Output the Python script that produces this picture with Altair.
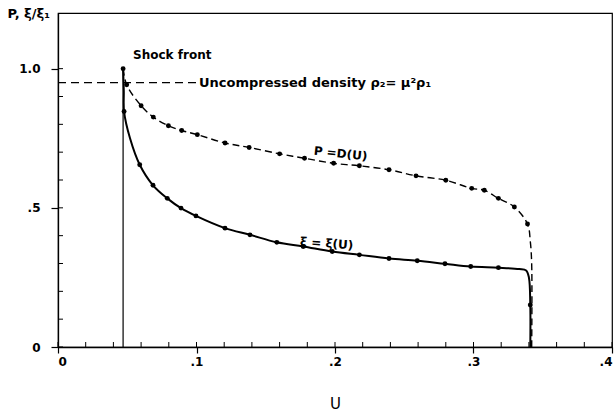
import altair as alt
import pandas as pd

# ---- data ----
p_u = [0.047, 0.0496, 0.060, 0.0688, 0.0797, 0.0893, 0.1006, 0.1206, 0.138, 0.160, 0.178,
       0.199, 0.2176, 0.239, 0.2585, 0.280, 0.2987, 0.3078, 0.318, 0.3295, 0.339, 0.341, 0.342, 0.342]
p_v = [1.0, 0.942, 0.867, 0.826, 0.795, 0.778, 0.763, 0.733, 0.717, 0.694, 0.678,
       0.660, 0.651, 0.637, 0.615, 0.599, 0.570, 0.563, 0.534, 0.503, 0.442, 0.38, 0.30, 0.0]
p_mark = [1, 1, 1, 1, 1, 1, 1, 1, 1, 1, 1,
          1, 1, 1, 1, 1, 1, 1, 1, 1, 1, 0, 0, 0]

xi_u = [0.047, 0.0475, 0.0477, 0.052, 0.059, 0.0686, 0.0789, 0.0888, 0.0996, 0.1206, 0.1386,
        0.158, 0.177, 0.198, 0.2176, 0.239, 0.2594, 0.2794, 0.298, 0.318, 0.333, 0.338, 0.340, 0.341, 0.341]
xi_v = [1.0, 0.92, 0.846, 0.75, 0.655, 0.581, 0.534, 0.499, 0.471, 0.427, 0.403,
        0.376, 0.361, 0.343, 0.331, 0.318, 0.310, 0.299, 0.289, 0.285, 0.280, 0.275, 0.25, 0.151, 0.0]
xi_mark = [0, 0, 1, 0, 1, 1, 1, 1, 1, 1, 1,
           1, 1, 1, 1, 1, 1, 1, 1, 1, 0, 0, 0, 1, 0]

shock_u = 0.047
shock_top = 1.0
uncompressed_v = 0.95
uncompressed_end = 0.101

x_ticks = [0, 0.1, 0.2, 0.3, 0.4]
y_ticks = [0, 0.5, 1.0]
x_minor = [round(i * 0.02, 2) for i in range(21)]
y_minor = [round(i * 0.1, 1) for i in range(11)]

label_shock = "Shock front"
label_unc = "Uncompressed  density  ρ₂= μ²ρ₁"
label_p = "P =D(U)"
label_xi = "ξ = ξ(U)"
x_title = "U"
y_title = "P, ξ/ξ₁"

# ---- tables ----
p_df = pd.DataFrame({"u": p_u, "v": p_v, "m": p_mark, "i": range(len(p_u))})
xi_df = pd.DataFrame({"u": xi_u, "v": xi_v, "m": xi_mark, "i": range(len(xi_u))})

FONT = "DejaVu Sans"
xs = alt.Scale(domain=[0, 0.4], nice=False, zero=False)
ys = alt.Scale(domain=[0, 1.2], nice=False, zero=False)

xaxis = alt.Axis(values=x_ticks, title=x_title, grid=False,
                 labelExpr="datum.value == 0 ? '0' : '.' + round(datum.value * 10)",
                 tickSize=6, labelPadding=3, labelFontSize=12, labelFont=FONT,
                 labelFontWeight="bold",
                 labelColor="black", titleFont=FONT, titleFontSize=15, titleFontWeight="normal",
                 titleColor="black", titleY=56, titleBaseline="middle",
                 domainColor="black", tickColor="black", domainWidth=1.3, tickWidth=1.2)
yaxis = alt.Axis(values=y_ticks, title=y_title, grid=False,
                 labelExpr="datum.value == 0 ? '0' : (datum.value == 1 ? '1.0' : '.5')",
                 tickSize=7, labelPadding=11, labelFontSize=12, labelFont=FONT,
                 labelFontWeight="bold",
                 labelColor="black", titleFont=FONT, titleFontSize=13, titleFontWeight="bold",
                 titleColor="black", titleAngle=0, titleAlign="left", titleBaseline="middle",
                 titleX=-51, titleY=0,
                 domainColor="black", tickColor="black", domainWidth=1.3, tickWidth=1.2)


def X(f="u"):
    return alt.X(f + ":Q", scale=xs, axis=xaxis)


def Y(f="v"):
    return alt.Y(f + ":Q", scale=ys, axis=yaxis)


base_p = alt.Chart(p_df)
base_xi = alt.Chart(xi_df)

p_line = base_p.mark_line(color="black", strokeWidth=1.4, strokeDash=[7, 4],
                          interpolate="catmull-rom").encode(x=X(), y=Y(), order="i:Q")
p_pts = base_p.transform_filter("datum.m == 1").mark_circle(
    color="black", opacity=1, size=24).encode(x=X(), y=Y())

xi_line = base_xi.mark_line(color="black", strokeWidth=2,
                            interpolate="catmull-rom").encode(x=X(), y=Y(), order="i:Q")
xi_pts = base_xi.transform_filter("datum.m == 1").mark_circle(
    color="black", opacity=1, size=24).encode(x=X(), y=Y())

shock_df = pd.DataFrame({"u": [shock_u], "v": [0.0], "v2": [shock_top]})
shock = alt.Chart(shock_df).mark_rule(color="black", strokeWidth=1.2).encode(
    x=X(), y=Y(), y2="v2:Q")

unc_df = pd.DataFrame({"u": [0.0], "u2": [uncompressed_end], "v": [uncompressed_v]})
unc = alt.Chart(unc_df).mark_rule(color="black", strokeWidth=1.1, strokeDash=[8, 5]).encode(
    x=X(), x2="u2:Q", y=Y())

xminor = alt.Chart(pd.DataFrame({"u": x_minor})).mark_rule(
    color="black", strokeWidth=1).encode(x=X(), y=alt.value(334), y2=alt.value(329))
yminor = alt.Chart(pd.DataFrame({"v": y_minor})).mark_rule(
    color="black", strokeWidth=1).encode(y=Y(), x=alt.value(0), x2=alt.value(5))


def label(text, u, v, align="left", angle=0, size=12):
    df = pd.DataFrame({"u": [u], "v": [v], "t": [text]})
    kw = dict(align=align, baseline="middle", font=FONT, fontSize=size, color="black",
              fontWeight="bold")
    if angle:
        kw["angle"] = angle
    return alt.Chart(df).mark_text(**kw).encode(x=X(), y=Y(), text="t:N")


t_shock = label(label_shock, 0.0542, 1.05)
t_unc = label(label_unc, 0.1018, 0.95, size=13)
t_p = label(label_p, 0.204, 0.695, align="center", angle=6)
t_xi = label(label_xi, 0.194, 0.372, align="center", angle=4)

chart = alt.layer(
    xminor, yminor, shock, unc, p_line, p_pts, xi_line, xi_pts, t_shock, t_unc, t_p, t_xi
).properties(
    width=554, height=334,
    autosize=alt.AutoSizeParams(type="none"),
    padding={"left": 58, "top": 13, "right": 2, "bottom": 67},
    background="white",
).configure_view(stroke="black", strokeWidth=1.2)

chart.save("out.html", embed_options={"renderer": "svg", "actions": False})
